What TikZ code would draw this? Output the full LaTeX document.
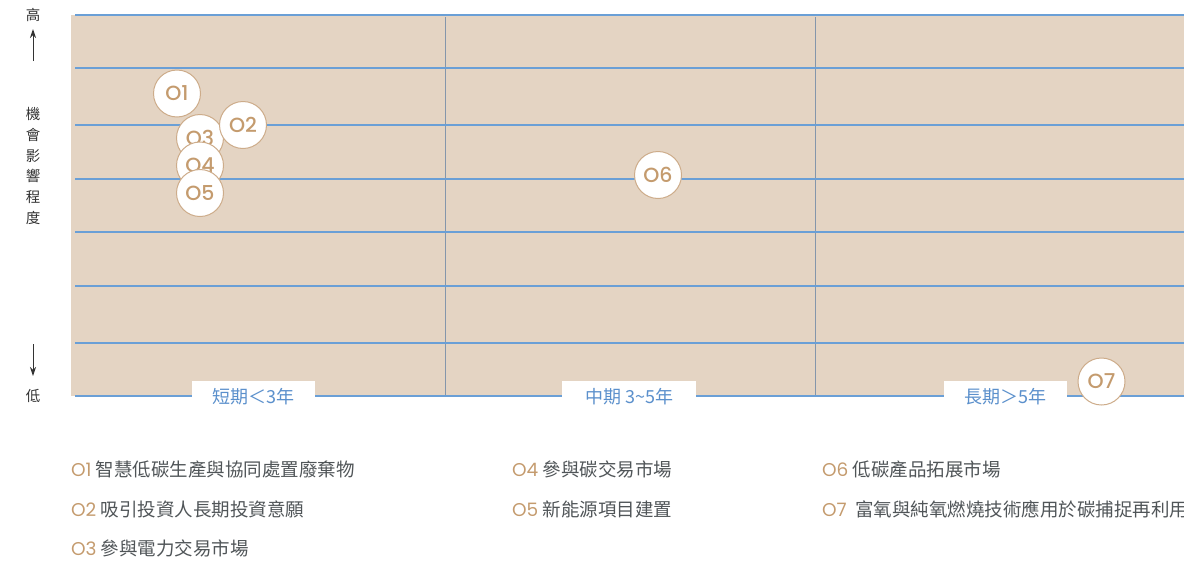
\documentclass[tikz,border=0pt]{standalone}
\usepackage{fontspec}
\usetikzlibrary{arrows.meta}
\setmainfont{Noto Sans CJK TC}
\newfontfamily\pop{Poppins Medium}
\newfontfamily\popr{Poppins}
\definecolor{beige}{HTML}{E4D4C3}
\definecolor{gridblue}{HTML}{6A9FD6}
\definecolor{vgrid}{HTML}{8496AB}
\definecolor{lblue}{HTML}{5B90CC}
\definecolor{tan}{HTML}{C49B6E}
\definecolor{ring}{HTML}{CDAC8A}
\definecolor{legtext}{HTML}{505558}
\definecolor{axtext}{HTML}{333333}
\tikzset{
  opp/.style={circle,draw=ring,line width=1pt,fill=white,minimum size=47pt,inner sep=0pt,
    text=tan,font=\pop\fontsize{20.5}{20.5}\selectfont},
  hline/.style={gridblue,line width=1.2pt},
  vline/.style={vgrid,line width=1pt},
  tlabel/.style={fill=white,minimum width=123pt,minimum height=31pt,inner sep=0pt,anchor=north,
    text=lblue,font=\fontsize{18}{18}\selectfont},
  axch/.style={text=axtext,font=\fontsize{14.5}{14.5}\selectfont,inner sep=0pt},
  leg/.style={anchor=base west,inner sep=0pt,text=legtext,font=\fontsize{18.5}{18.5}\selectfont},
  axarrow/.style={-{Stealth[length=9pt,width=6pt]},axtext,line width=1pt}
}
\newcommand{\oo}[1]{{\popr\color{tan}#1}}
\begin{document}
\begin{tikzpicture}[x=1pt,y=-1pt]
\useasboundingbox (0,0) rectangle (1184,563);
% background
\fill[beige] (71,15) rectangle (1190,396);
% vertical lines
\draw[vline] (445,17) -- (445,396);
\draw[vline] (815,17) -- (815,396);
% horizontal lines
\foreach \yy in {15,68,125,179,232,286,343,396}
  \draw[hline] (75,\yy) -- (1190,\yy);
% time labels
\node[tlabel] (t1) at (253.5,381) {短期＜3年};
\node[tlabel,minimum width=134pt] (t2) at (629,381) {中期 3\char`~5年};
\node[tlabel] (t3) at (1005.5,381) {長期＞5年};
% left axis
\node[axch] (hi) at (33,15) {高};
\coordinate (hiA) at (33,61);
\coordinate (hiB) at (33,29);
\draw[axarrow] (hiA) -- (hiB);
\node[axch,align=center,font=\fontsize{14.5}{20.8}\selectfont] (ax) at (33,166) {機\\會\\影\\響\\程\\度};
\coordinate (loA) at (33,344);
\coordinate (loB) at (33,376);
\draw[axarrow] (loA) -- (loB);
\node[axch] (lo) at (33,396) {低};
% opportunity circles
\node[opp] (o1) at (177,93.5) {O1};
\node[opp] (o3) at (200,138) {O3};
\node[opp] (o4) at (200,165.5) {O4};
\node[opp] (o5) at (200,193) {O5};
\node[opp] (o2) at (243,125) {O2};
\node[opp] (o6) at (658,175) {O6};
\node[opp] (o7) at (1101.5,381.5) {O7};
% legend
\node[leg] (l1) at (71,476) {\oo{O1} 智慧低碳生產與協同處置廢棄物};
\node[leg] (l2) at (71,516) {\oo{O2} 吸引投資人長期投資意願};
\node[leg] (l3) at (71,555) {\oo{O3} 參與電力交易市場};
\node[leg] (l4) at (512,476) {\oo{O4} 參與碳交易市場};
\node[leg] (l5) at (512,516) {\oo{O5} 新能源項目建置};
\node[leg] (l6) at (822,476) {\oo{O6} 低碳產品拓展市場};
\node[leg] (l7) at (822,516) {\oo{O7}\ \ 富氧與純氧燃燒技術應用於碳捕捉再利用};
\end{tikzpicture}
\end{document}
